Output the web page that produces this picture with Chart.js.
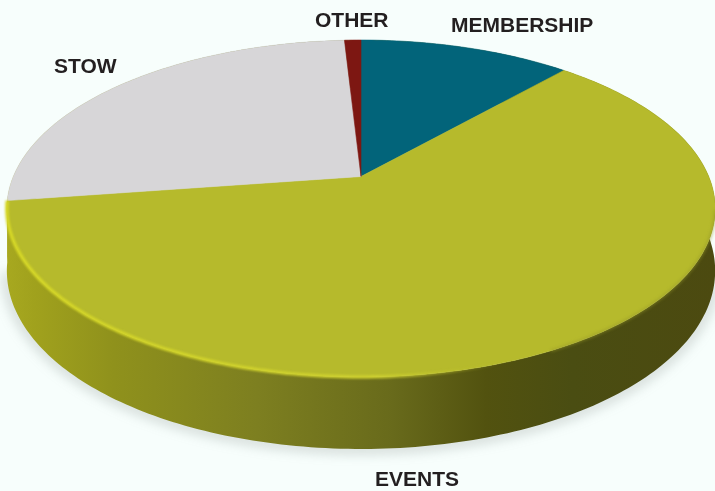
<!DOCTYPE html>
<html>
<head>
<meta charset="utf-8">
<style>
  html, body { margin: 0; padding: 0; background: #f7fefc; }
  canvas { display: block; }
</style>
<script src="https://cdn.jsdelivr.net/npm/chart.js@4/dist/chart.umd.js"></script>
</head>
<body>
<canvas id="pie" width="715" height="491"></canvas>
<script>
// Revenue share by source
const categories = ['MEMBERSHIP', 'EVENTS', 'STOW', 'OTHER'];
const shares = [11.6, 61.1, 26.4, 0.9];
const faceColors = ['#02647a', '#b6ba2c', '#d7d6d8', '#7d1712'];

// Label placement: [left x, baseline y] for each category
const labelPlaces = [[451, 32], [375, 486], [54, 73], [315, 27]];

// Perspective of the tilted disc, relative to the arc's radius
const NEAR_GROWTH = 0.19;
const WIDTH_RATIO = 1.97;
const HEIGHT_RATIO = 0.92;
const WALL_BACK = 60;
const WALL_FRONT = 12;
const STEP = Math.PI / 180;

// Maps an angle on the flat disc to the canvas, optionally dropped to the lower rim
function project(arc, angle, lower) {
  const u = Math.cos(angle);
  const v = Math.sin(angle);
  const d = 1 - NEAR_GROWTH * v;
  const r = arc.outerRadius;
  return {
    x: arc.x + WIDTH_RATIO * r * u / d,
    y: arc.y + HEIGHT_RATIO * r * v / d + (lower ? WALL_BACK + WALL_FRONT * v : 0)
  };
}

function traceRim(ctx, arc, from, to, lower) {
  const n = Math.max(1, Math.ceil(Math.abs(to - from) / STEP));
  for (let i = 0; i <= n; i++) {
    const p = project(arc, from + (to - from) * i / n, lower);
    ctx.lineTo(p.x, p.y);
  }
}

// Each slice is filled as its projected wedge
Chart.ArcElement.prototype.draw = function (ctx) {
  ctx.save();
  ctx.beginPath();
  ctx.moveTo(this.x, this.y);
  traceRim(ctx, this, this.startAngle, this.endAngle, false);
  ctx.closePath();
  ctx.fillStyle = this.options.backgroundColor;
  ctx.strokeStyle = this.options.backgroundColor;
  ctx.lineWidth = 0.6;
  ctx.fill();
  ctx.stroke();
  ctx.restore();
};

const discSides = {
  id: 'discSides',
  beforeDatasetsDraw(chart) {
    const { ctx } = chart;
    const arcs = chart.getDatasetMeta(0).data;

    // Soft contact shadow below the disc
    ctx.save();
    ctx.filter = 'blur(6px)';
    ctx.strokeStyle = 'rgba(110,120,115,0.30)';
    ctx.lineWidth = 9;
    ctx.beginPath();
    traceRim(ctx, arcs[0], 0.25, Math.PI - 0.2, true);
    ctx.stroke();
    ctx.restore();

    // Outer wall, lit from the left
    const wall = ctx.createLinearGradient(0, 0, chart.width, 0);
    wall.addColorStop(0, '#a9aa20');
    wall.addColorStop(0.05, '#a0a11d');
    wall.addColorStop(0.16, '#8f911c');
    wall.addColorStop(0.36, '#7d7f20');
    wall.addColorStop(0.55, '#686a1b');
    wall.addColorStop(0.68, '#52520f');
    wall.addColorStop(0.8, '#4a4d12');
    wall.addColorStop(1, '#4c4a10');
    arcs.forEach(arc => {
      ctx.beginPath();
      traceRim(ctx, arc, arc.startAngle, arc.endAngle, false);
      traceRim(ctx, arc, arc.endAngle, arc.startAngle, true);
      ctx.closePath();
      ctx.fillStyle = wall;
      ctx.fill();
    });
  },
  afterDatasetsDraw(chart) {
    const { ctx } = chart;
    const arcs = chart.getDatasetMeta(0).data;
    const widest = arcs[shares.indexOf(Math.max(...shares))];

    // Soft shaded edge on the unlit side of the front rim
    ctx.save();
    ctx.filter = 'blur(1.5px)';
    ctx.strokeStyle = 'rgba(150,152,40,0.55)';
    ctx.lineWidth = 2.5;
    ctx.beginPath();
    traceRim(ctx, widest, 0.2, 1.1, false);
    ctx.stroke();
    ctx.restore();

    // Bright bevel along the lit part of the front edge
    const glow = ctx.createLinearGradient(0, 0, 500, 0);
    glow.addColorStop(0, 'rgba(214,216,38,1)');
    glow.addColorStop(0.75, 'rgba(208,210,48,0.9)');
    glow.addColorStop(1, 'rgba(190,194,44,0)');
    ctx.save();
    ctx.filter = 'blur(1.2px)';
    ctx.strokeStyle = glow;
    ctx.lineWidth = 3.5;
    ctx.beginPath();
    traceRim(ctx, widest, widest.endAngle, 1.0, false);
    ctx.stroke();
    ctx.restore();

    // Category names
    ctx.save();
    ctx.font = 'bold 21px "Liberation Sans", Arial, sans-serif';
    ctx.fillStyle = '#231f20';
    ctx.textBaseline = 'alphabetic';
    categories.forEach((name, i) => {
      ctx.fillText(name, labelPlaces[i][0], labelPlaces[i][1]);
    });
    ctx.restore();
  }
};

new Chart(document.getElementById('pie'), {
  type: 'pie',
  data: {
    labels: categories,
    datasets: [{ data: shares, backgroundColor: faceColors, borderWidth: 0 }]
  },
  options: {
    responsive: false,
    animation: false,
    layout: { padding: { left: 7, right: 0, top: 0, bottom: 138 } },
    plugins: { legend: { display: false }, tooltip: { enabled: false } }
  },
  plugins: [discSides]
});
</script>
</body>
</html>
